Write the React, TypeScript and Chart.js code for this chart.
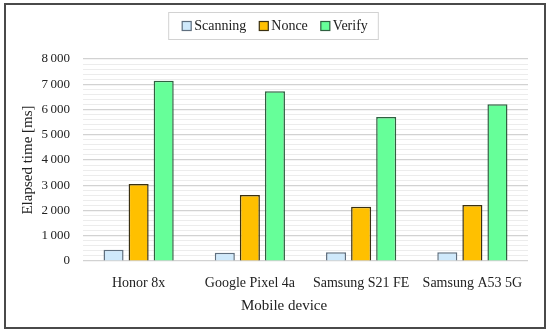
import React, { useEffect, useRef } from 'react';
import { Chart, registerables } from 'chart.js';

Chart.register(...registerables);

const categories = ['Honor 8x', 'Google Pixel 4a', 'Samsung S21 FE', 'Samsung A53 5G'];
const seriesNames = ['Scanning', 'Nonce', 'Verify'];
const scanning = [450, 330, 345, 345];
const nonce = [3050, 2615, 2150, 2220];
const verify = [7140, 6720, 5700, 6205];
const yMin = 0;
const yMax = 8000;
const yMinorStep = 200;
const yMajorStep = 1000;
const xTitle = 'Mobile device';
const yTitle = 'Elapsed time [ms]';

const fills = ['#cfe9fb', '#ffc000', '#66ff99'];
const borders = ['#5f6f7f', '#3a3010', '#2f6040'];
const FONT = "'Liberation Serif', 'Times New Roman', serif";

function fmt(v: number): string {
  if (v >= 1000) {
    return `${Math.floor(v / 1000)}\u2009${String(v % 1000).padStart(3, '0')}`;
  }
  return String(v);
}

const decorPlugin = {
  id: 'decor',
  beforeDraw(chart: any) {
    const ctx = chart.ctx;
    ctx.save();
    ctx.fillStyle = '#ffffff';
    ctx.fillRect(0, 0, chart.width, chart.height);
    ctx.restore();
  },
  afterDraw(chart: any) {
    const ctx = chart.ctx;
    const W = chart.width;
    ctx.save();
    // outer frame
    ctx.strokeStyle = '#4a4a4a';
    ctx.lineWidth = 2;
    ctx.strokeRect(5, 4, W - 10, chart.height - 8);

    // legend
    ctx.font = `14px ${FONT}`;
    const box = 9;
    const gapText = 3;
    const gapItem = 13;
    const widths = seriesNames.map((n) => box + gapText + ctx.measureText(n).width);
    const total = widths.reduce((a, b) => a + b, 0) + gapItem * (seriesNames.length - 1);
    const padL = 14;
    const padR = 10;
    const lx = W / 2 - total / 2;
    const lTop = 12;
    const lH = 27;
    ctx.fillStyle = '#ffffff';
    ctx.fillRect(lx - padL + 0.5, lTop + 0.5, total + padL + padR, lH);
    ctx.strokeStyle = '#d2d2d2';
    ctx.lineWidth = 1;
    ctx.strokeRect(lx - padL + 0.5, lTop + 0.5, total + padL + padR, lH);
    let x = lx;
    const cy = lTop + lH / 2 + 0.5;
    seriesNames.forEach((n, i) => {
      ctx.fillStyle = fills[i];
      ctx.fillRect(x, cy - box / 2, box, box);
      ctx.strokeStyle = borders[i];
      ctx.lineWidth = 1.2;
      ctx.strokeRect(x, cy - box / 2, box, box);
      ctx.fillStyle = '#222';
      ctx.textBaseline = 'middle';
      ctx.textAlign = 'left';
      ctx.fillText(n, x + box + gapText, cy);
      x += widths[i] + gapItem;
    });

    // axis titles
    const area = chart.chartArea;
    ctx.font = `15px ${FONT}`;
    ctx.fillStyle = '#222';
    ctx.textAlign = 'center';
    ctx.textBaseline = 'middle';
    ctx.fillText(xTitle, W / 2 + 9, 306);
    ctx.translate(28, (area.top + area.bottom) / 2);
    ctx.rotate(-Math.PI / 2);
    ctx.fillText(yTitle, 0, 0);
    ctx.restore();
  },
};

export default function App() {
  const ref = useRef<HTMLCanvasElement | null>(null);
  useEffect(() => {
    document.body.style.margin = '0';
    if (!ref.current) return;
    const values = [scanning, nonce, verify];
    const chart = new Chart(ref.current, {
      type: 'bar',
      data: {
        labels: categories,
        datasets: seriesNames.map((name, i) => ({
          label: name,
          data: values[i],
          backgroundColor: fills[i],
          borderColor: borders[i],
          borderWidth: 1.5,
          categoryPercentage: 0.676,
          barPercentage: 0.8,
        })),
      },
      options: {
        animation: false,
        responsive: true,
        maintainAspectRatio: false,
        layout: { padding: { left: 0, right: 22, top: 59, bottom: 0 } },
        plugins: {
          legend: { display: false },
          tooltip: { enabled: false },
        },
        scales: {
          x: {
            grid: { display: false },
            border: { display: false },
            ticks: {
              color: '#222',
              font: { family: FONT, size: 14 },
              padding: 6,
              maxRotation: 0,
              autoSkip: false,
            },
            afterFit(scale: any) {
              scale.height = 71;
            },
          },
          y: {
            min: yMin,
            max: yMax,
            border: { display: false },
            grid: {
              drawTicks: false,
              color: (c: any) => (c.tick && c.tick.value % yMajorStep === 0 ? '#d2d2d2' : '#ececec'),
              lineWidth: (c: any) => (c.tick && c.tick.value % yMajorStep === 0 ? 1.2 : 1),
            },
            ticks: {
              stepSize: yMinorStep,
              autoSkip: false,
              padding: 13,
              color: '#222',
              font: { family: FONT, size: 13 },
              callback: (v: any) => (Number(v) % yMajorStep === 0 ? fmt(Number(v)) : ''),
            },
            afterFit(scale: any) {
              scale.width = 83;
            },
          },
        },
      },
      plugins: [decorPlugin],
    });
    return () => chart.destroy();
  }, []);
  return (
    <div style={{ position: 'relative', width: 550, height: 332 }}>
      <canvas ref={ref} />
    </div>
  );
}
